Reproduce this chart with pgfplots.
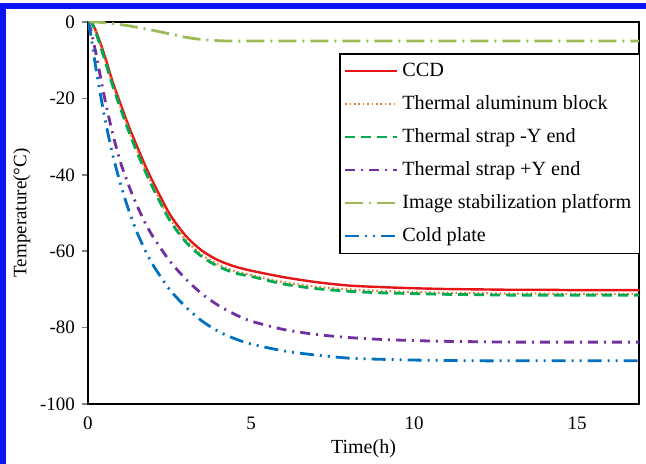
\documentclass[border=0pt]{standalone}
\usepackage{fontspec}
\setmainfont{Liberation Serif}
\usepackage{pgfplots}
\usepackage{pgfplotstable}
\pgfplotsset{compat=1.18}

\definecolor{ccd}{RGB}{230,20,20}
\definecolor{alu}{RGB}{237,125,49}
\definecolor{strapm}{RGB}{0,170,80}
\definecolor{strapp}{RGB}{112,48,160}
\definecolor{isp}{RGB}{155,187,89}
\definecolor{cold}{RGB}{0,112,192}
\definecolor{frameblue}{RGB}{10,20,245}

% t, CCD, aluminum block, strap -Y, strap +Y, stabilization platform, cold plate
\pgfplotstableread{
t    ccd    alu    sm     sp     isp   cold
0    0      0      0      0      0     0
0.1  0      0      0      -2.5   0     -4
0.25 -2.5   -2.8   -3     -8.5   0     -12.5
0.5  -8.5   -9.2   -9.5   -19.5  -0.2  -24.5
0.75 -15.5  -16.2  -16.5  -29    -0.4  -34.5
1    -21.5  -22.3  -22.7  -36.8  -0.7  -42.5
1.25 -27.3  -28.2  -28.6  -42.8  -1    -49.3
1.5  -32.5  -33.5  -34    -48    -1.4  -55
1.75 -37.5  -38.5  -39    -52.5  -1.8  -59.7
2    -42    -43.1  -43.6  -56.3  -2.2  -63.7
2.5  -50.2  -51.3  -51.8  -62.5  -3.1  -70
3    -56    -57.1  -57.6  -67.3  -4    -74.6
3.5  -59.9  -61    -61.5  -71.2  -4.6  -78.3
4    -62.4  -63.5  -64    -74.2  -4.9  -81
4.5  -64    -65.2  -65.7  -76.5  -5    -82.9
5    -65.1  -66.2  -66.6  -78.3  -5    -84.3
6    -66.8  -68.1  -68.6  -80.5  -5    -86.1
7    -68.1  -69.3  -69.8  -81.8  -5    -87.2
8    -69    -70    -70.5  -82.6  -5    -88
9    -69.4  -70.4  -70.9  -83.1  -5    -88.3
10   -69.7  -70.7  -71.1  -83.4  -5    -88.5
11   -69.9  -70.9  -71.3  -83.6  -5    -88.6
12   -70    -71    -71.4  -83.7  -5    -88.7
13   -70.1  -71.1  -71.5  -83.8  -5    -88.7
14   -70.1  -71.1  -71.5  -83.8  -5    -88.7
15   -70.2  -71.2  -71.5  -83.8  -5    -88.7
16   -70.2  -71.2  -71.5  -83.8  -5    -88.7
16.9 -70.2  -71.2  -71.5  -83.8  -5    -88.7
}\temps

\begin{document}
\begin{tikzpicture}
\begin{axis}[
    scale only axis,
    width=275.5pt, height=191pt,
    xmin=0, xmax=16.9,
    ymin=-100, ymax=0,
    xtick={0,5,10,15},
    ytick={-100,-80,...,0},
    axis line style={line width=1pt},
    tick align=outside,
    ytick pos=left,
    xtick style={draw=none},
    major tick length=3pt,
    ytick style={line width=0.8pt},
    /pgf/number format/assume math mode=true,
    ticklabel style={font=\fontsize{9.5}{11}\selectfont},
    xlabel={Time(h)},
    ylabel={Temperature(°C)},
    xlabel style={font=\fontsize{10}{12}\selectfont, yshift=2pt},
    ylabel style={font=\fontsize{9.5}{11}\selectfont, yshift=-2pt},
    legend cell align=left,
    legend style={at={(0.456,0.918)}, anchor=north west,
        font=\fontsize{10.1}{12}\selectfont,
        draw=black, line width=0.7pt, inner xsep=2pt, inner ysep=2.5pt,
        row sep=4pt},
    legend image code/.code={\draw[#1, line width=1.2pt] (0pt,0pt) -- (26pt,0pt);},
    every axis plot/.append style={smooth, tension=0.45},
]
\addplot[ccd, line width=1.2pt] table[x=t, y=ccd] {\temps};
\addlegendentry{CCD}
\addplot[alu, line width=1.1pt, dash pattern=on 0.8pt off 1.4pt] table[x=t, y=alu] {\temps};
\addlegendentry{Thermal aluminum block}
\addplot[strapm, line width=1.4pt, dash pattern=on 5pt off 3pt] table[x=t, y=sm] {\temps};
\addlegendentry{Thermal strap -Y end}
\addplot[strapp, line width=1.4pt, dash pattern=on 5pt off 3pt on 1pt off 3pt] table[x=t, y=sp] {\temps};
\addlegendentry{Thermal strap +Y end}
\addplot[isp, line width=1.4pt, dash pattern=on 9pt off 3pt on 1pt off 3pt] table[x=t, y=isp] {\temps};
\addlegendentry{Image stabilization platform}
\addplot[cold, line width=1.4pt, dash pattern=on 7pt off 3pt on 1pt off 3pt on 1pt off 3pt] table[x=t, y=cold] {\temps};
\addlegendentry{Cold plate}
\end{axis}
% blue frame of the figure (top and left edges)
\fill[frameblue] (-44pt,197.5pt) rectangle (279pt,200.5pt);
\fill[frameblue] (-44pt,-30pt) rectangle (-41pt,200.5pt);
\pgfresetboundingbox
\useasboundingbox (-44pt,-30pt) rectangle (279pt,202pt);
\end{tikzpicture}
\end{document}
